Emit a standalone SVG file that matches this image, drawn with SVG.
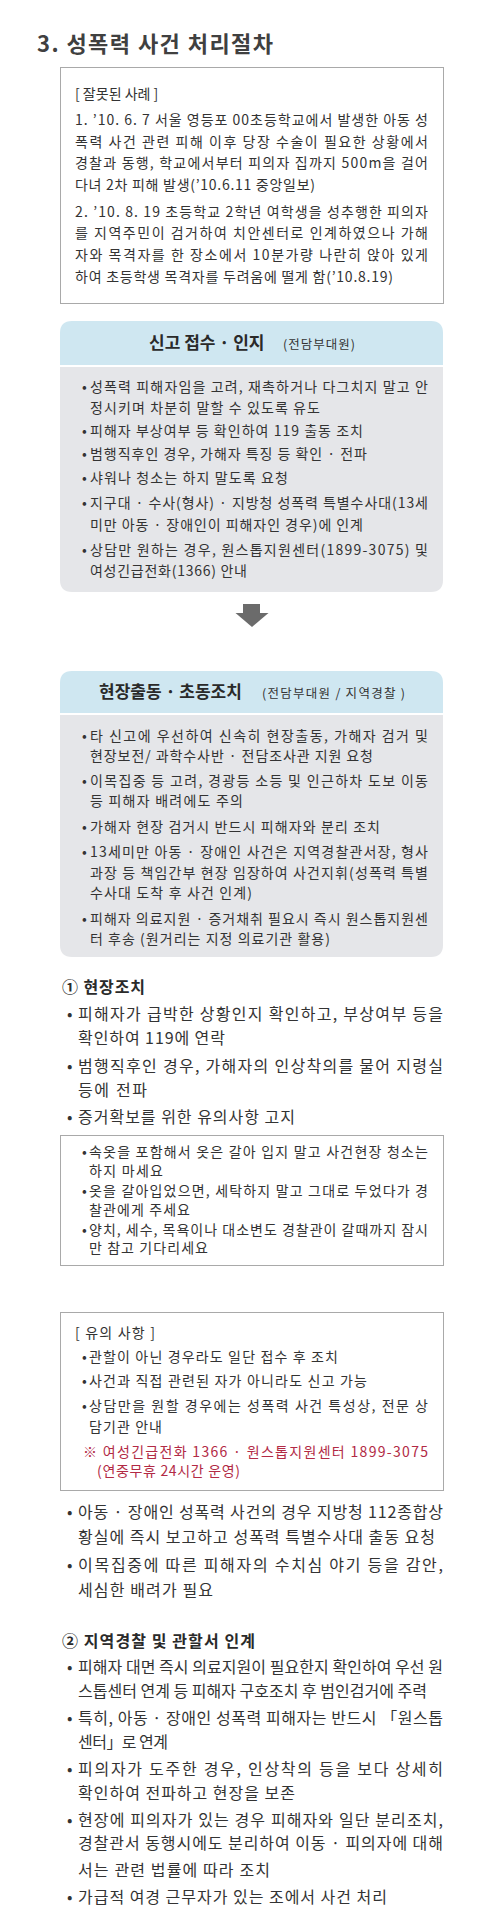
<svg xmlns="http://www.w3.org/2000/svg" width="480" height="1921" viewBox="0 0 480 1921">
<style>
text{font-family:"Noto Sans CJK KR","Noto Sans CJK SC",sans-serif;fill:#333;}
.t{font-size:22px;font-weight:bold;fill:#404040;}
.s{font-size:14px;}
.m{font-size:16px;}
.h{font-size:17px;font-weight:bold;fill:#2a2a2a;}
.hs{font-size:12.5px;fill:#333;}
.sub{font-size:16px;font-weight:bold;fill:#2a2a2a;}
.red{font-size:14px;fill:#b22a45;}
.box{fill:#fff;stroke:#a9a9a9;stroke-width:1;}
.hdr{fill:#cfe7f1;}
.body{fill:#e5e6e9;}
.arr{fill:#6b6b6b;}
</style>
<rect width="480" height="1921" fill="#fff"/>

<g id="title">
<text class="t" x="37" y="52" textLength="236" lengthAdjust="spacing">3. 성폭력 사건 처리절차</text>
</g>

<g id="wrong-cases">
<rect class="box" x="60.5" y="67.5" width="383" height="236"/>
<text class="s" x="75" y="99">[ 잘못된 사례 ]</text>
<text class="s" x="75" y="125" textLength="353" lengthAdjust="spacing">1. ’10. 6. 7 서울 영등포 00초등학교에서 발생한 아동 성</text>
<text class="s" x="75" y="147" textLength="353" lengthAdjust="spacing">폭력 사건 관련 피해 이후 당장 수술이 필요한 상황에서</text>
<text class="s" x="75" y="168" textLength="353" lengthAdjust="spacing">경찰과 동행, 학교에서부터 피의자 집까지 500m을 걸어</text>
<text class="s" x="75" y="190" textLength="240" lengthAdjust="spacing">다녀 2차 피해 발생(’10.6.11 중앙일보)</text>
<text class="s" x="75" y="217" textLength="353" lengthAdjust="spacing">2. ’10. 8. 19 초등학교 2학년 여학생을 성추행한 피의자</text>
<text class="s" x="75" y="238" textLength="353" lengthAdjust="spacing">를 지역주민이 검거하여 치안센터로 인계하였으나 가해</text>
<text class="s" x="75" y="260" textLength="353" lengthAdjust="spacing">자와 목격자를 한 장소에서 10분가량 나란히 앉아 있게</text>
<text class="s" x="75" y="282" textLength="318" lengthAdjust="spacing">하여 초등학생 목격자를 두려움에 떨게 함(’10.8.19)</text>
</g>

<g id="report">
<path class="hdr" d="M60 365 V333 Q60 321 72 321 H431 Q443 321 443 333 V365 Z"/>
<path class="body" d="M60 367 H443 V580 Q443 592 431 592 H72 Q60 592 60 580 Z"/>
<text class="h" x="149" y="349">신고 접수 · 인지</text>
<text class="hs" x="283" y="349" textLength="72" lengthAdjust="spacing">(전담부대원)</text>
<text class="s" x="82" y="392">•</text><text class="s" x="90" y="392" textLength="338" lengthAdjust="spacing">성폭력 피해자임을 고려, 재촉하거나 다그치지 말고 안</text>
<text class="s" x="90" y="413" textLength="230" lengthAdjust="spacing">정시키며 차분히 말할 수 있도록 유도</text>
<text class="s" x="82" y="436">•</text><text class="s" x="90" y="436" textLength="273" lengthAdjust="spacing">피해자 부상여부 등 확인하여 119 출동 조치</text>
<text class="s" x="82" y="459">•</text><text class="s" x="90" y="459" textLength="277" lengthAdjust="spacing">범행직후인 경우, 가해자 특징 등 확인 · 전파</text>
<text class="s" x="82" y="483">•</text><text class="s" x="90" y="483" textLength="198" lengthAdjust="spacing">샤워나 청소는 하지 말도록 요청</text>
<text class="s" x="82" y="508">•</text><text class="s" x="90" y="508" textLength="338" lengthAdjust="spacing">지구대 · 수사(형사) · 지방청 성폭력 특별수사대(13세</text>
<text class="s" x="90" y="530" textLength="273" lengthAdjust="spacing">미만 아동 · 장애인이 피해자인 경우)에 인계</text>
<text class="s" x="82" y="555">•</text><text class="s" x="90" y="555" textLength="338" lengthAdjust="spacing">상담만 원하는 경우, 원스톱지원센터(1899-3075)  및</text>
<text class="s" x="90" y="576" textLength="157" lengthAdjust="spacing">여성긴급전화(1366) 안내</text>
</g>

<g id="connectors">
<rect class="arr" x="243" y="604" width="17" height="10"/>
<polygon class="arr" points="235.5,613 268.5,613 252,627"/>
</g>

<g id="dispatch">
<path class="hdr" d="M60 713 V683 Q60 671 72 671 H431 Q443 671 443 683 V713 Z"/>
<path class="body" d="M60 715 H443 V945 Q443 957 431 957 H72 Q60 957 60 945 Z"/>
<text class="h" x="99" y="698">현장출동 · 초동조치</text>
<text class="hs" x="262" y="698" textLength="143" lengthAdjust="spacing">(전담부대원 / 지역경찰 )</text>
<text class="s" x="82" y="741">•</text><text class="s" x="90" y="741" textLength="338" lengthAdjust="spacing">타 신고에 우선하여 신속히 현장출동, 가해자 검거 및</text>
<text class="s" x="90" y="761" textLength="283" lengthAdjust="spacing">현장보전/ 과학수사반 · 전담조사관 지원 요청</text>
<text class="s" x="82" y="786">•</text><text class="s" x="90" y="786" textLength="338" lengthAdjust="spacing">이목집중 등 고려, 경광등 소등 및 인근하차 도보 이동</text>
<text class="s" x="90" y="806" textLength="153" lengthAdjust="spacing">등 피해자 배려에도 주의</text>
<text class="s" x="82" y="832">•</text><text class="s" x="90" y="832" textLength="290" lengthAdjust="spacing">가해자 현장 검거시 반드시 피해자와 분리 조치</text>
<text class="s" x="82" y="857">•</text><text class="s" x="90" y="857" textLength="338" lengthAdjust="spacing">13세미만 아동 · 장애인 사건은 지역경찰관서장, 형사</text>
<text class="s" x="90" y="878" textLength="338" lengthAdjust="spacing">과장 등 책임간부 현장 임장하여 사건지휘(성폭력 특별</text>
<text class="s" x="90" y="898" textLength="162" lengthAdjust="spacing">수사대 도착 후 사건 인계)</text>
<text class="s" x="82" y="924">•</text><text class="s" x="90" y="924" textLength="338" lengthAdjust="spacing">피해자 의료지원 · 증거채취 필요시 즉시 원스톱지원센</text>
<text class="s" x="90" y="944" textLength="240" lengthAdjust="spacing">터 후송 (원거리는 지정 의료기관 활용)</text>
</g>

<g id="onsite">
<text class="sub" x="62" y="993" textLength="83" lengthAdjust="spacing">① 현장조치</text>
<text class="m" x="67" y="1020">•</text><text class="m" x="78" y="1020" textLength="365" lengthAdjust="spacing">피해자가 급박한 상황인지 확인하고, 부상여부 등을</text>
<text class="m" x="78" y="1044" textLength="147" lengthAdjust="spacing">확인하여 119에 연락</text>
<text class="m" x="67" y="1072">•</text><text class="m" x="78" y="1072" textLength="365" lengthAdjust="spacing">범행직후인 경우, 가해자의 인상착의를 물어 지령실</text>
<text class="m" x="78" y="1096" textLength="69" lengthAdjust="spacing">등에 전파</text>
<text class="m" x="67" y="1123">•</text><text class="m" x="78" y="1123" textLength="217" lengthAdjust="spacing">증거확보를 위한 유의사항 고지</text>
</g>

<g id="evidence-notice">
<rect class="box" x="60.5" y="1135.5" width="383" height="130"/>
<text class="s" x="82" y="1157">•</text><text class="s" x="89" y="1157" textLength="339" lengthAdjust="spacing">속옷을 포함해서 옷은 갈아 입지 말고 사건현장 청소는</text>
<text class="s" x="89" y="1176" textLength="74" lengthAdjust="spacing">하지 마세요</text>
<text class="s" x="82" y="1196">•</text><text class="s" x="89" y="1196" textLength="339" lengthAdjust="spacing">옷을 갈아입었으면, 세탁하지 말고 그대로 두었다가 경</text>
<text class="s" x="89" y="1215" textLength="101" lengthAdjust="spacing">찰관에게 주세요</text>
<text class="s" x="82" y="1235">•</text><text class="s" x="89" y="1235" textLength="339" lengthAdjust="spacing">양치, 세수, 목욕이나 대소변도 경찰관이 갈때까지 잠시</text>
<text class="s" x="89" y="1253" textLength="119" lengthAdjust="spacing">만 참고 기다리세요</text>
</g>

<g id="cautions">
<rect class="box" x="60.5" y="1312.5" width="383" height="178"/>
<text class="s" x="75" y="1338" textLength="80" lengthAdjust="spacing">[ 유의 사항 ]</text>
<text class="s" x="82" y="1362">•</text><text class="s" x="89" y="1362" textLength="249" lengthAdjust="spacing">관할이 아닌 경우라도 일단 접수 후 조치</text>
<text class="s" x="82" y="1386">•</text><text class="s" x="89" y="1386" textLength="278" lengthAdjust="spacing">사건과 직접 관련된 자가 아니라도 신고 가능</text>
<text class="s" x="82" y="1411">•</text><text class="s" x="89" y="1411" textLength="339" lengthAdjust="spacing">상담만을 원할 경우에는 성폭력 사건 특성상, 전문 상</text>
<text class="s" x="89" y="1432" textLength="73" lengthAdjust="spacing">담기관 안내</text>
<text class="red" x="83" y="1457" textLength="345" lengthAdjust="spacing">※ 여성긴급전화  1366 · 원스톱지원센터  1899-3075</text>
<text class="red" x="97" y="1476" textLength="143" lengthAdjust="spacing">(연중무휴 24시간 운영)</text>
</g>

<g id="report-notes">
<text class="m" x="67" y="1518">•</text><text class="m" x="78" y="1518" textLength="365" lengthAdjust="spacing">아동 · 장애인 성폭력 사건의 경우 지방청 112종합상</text>
<text class="m" x="78" y="1543" textLength="357" lengthAdjust="spacing">황실에 즉시 보고하고 성폭력 특별수사대 출동 요청</text>
<text class="m" x="67" y="1571">•</text><text class="m" x="78" y="1571" textLength="365" lengthAdjust="spacing">이목집중에 따른 피해자의 수치심 야기 등을 감안,</text>
<text class="m" x="78" y="1596" textLength="135" lengthAdjust="spacing">세심한 배려가 필요</text>
</g>

<g id="handover">
<text class="sub" x="62" y="1647" textLength="193" lengthAdjust="spacing">② 지역경찰 및 관할서 인계</text>
<text class="m" x="67" y="1673">•</text><text class="m" x="78" y="1673" textLength="365" lengthAdjust="spacing">피해자 대면 즉시 의료지원이 필요한지 확인하여 우선 원</text>
<text class="m" x="78" y="1697" textLength="349" lengthAdjust="spacing">스톱센터 연계 등 피해자 구호조치 후 범인검거에 주력</text>
<text class="m" x="67" y="1724">•</text><text class="m" x="78" y="1724" textLength="365" lengthAdjust="spacing">특히, 아동 · 장애인 성폭력 피해자는 반드시 「원스톱</text>
<text class="m" x="78" y="1748" textLength="90" lengthAdjust="spacing">센터」로 연계</text>
<text class="m" x="67" y="1775">•</text><text class="m" x="78" y="1775" textLength="365" lengthAdjust="spacing">피의자가 도주한 경우, 인상착의 등을 보다 상세히</text>
<text class="m" x="78" y="1799" textLength="217" lengthAdjust="spacing">확인하여 전파하고 현장을 보존</text>
<text class="m" x="67" y="1826">•</text><text class="m" x="78" y="1826" textLength="365" lengthAdjust="spacing">현장에 피의자가 있는 경우 피해자와 일단 분리조치,</text>
<text class="m" x="78" y="1849" textLength="365" lengthAdjust="spacing">경찰관서 동행시에도 분리하여 이동 · 피의자에 대해</text>
<text class="m" x="78" y="1876" textLength="192" lengthAdjust="spacing">서는 관련 법률에 따라 조치</text>
<text class="m" x="67" y="1903">•</text><text class="m" x="78" y="1903" textLength="309" lengthAdjust="spacing">가급적 여경 근무자가 있는 조에서 사건 처리</text>
</g>
</svg>
